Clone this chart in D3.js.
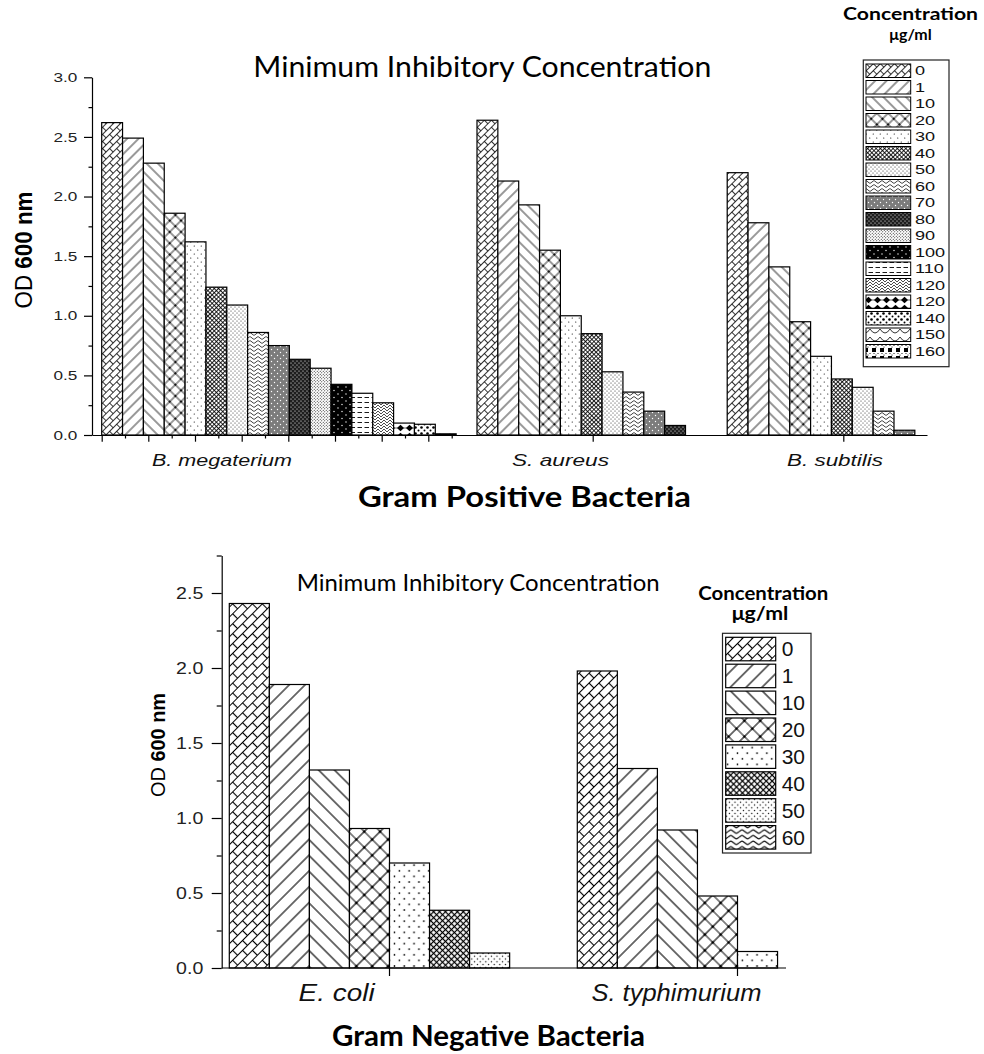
<!DOCTYPE html>
<html><head><meta charset="utf-8">
<script src="https://cdn.jsdelivr.net/npm/d3@7"></script>
<style>body{margin:0;background:#fff} svg{display:block}</style>
</head><body>
<svg id="c" width="984" height="1054"></svg>
<script>
// ---------------- data ----------------
const concentrations = ["0","1","10","20","30","40","50","60","70","80","90","100","110","120","120","140","150","160"];
const gpBacteria = ["B. megaterium","S. aureus","B. subtilis"];
const bMegaterium = [2.62,2.49,2.28,1.86,1.62,1.24,1.09,0.86,0.75,0.635,0.56,0.425,0.35,0.27,0.10,0.09,0.01,0];
const sAureus = [2.64,2.13,1.93,1.55,1.00,0.85,0.53,0.36,0.20,0.08,0,0];
const bSubtilis = [2.20,1.78,1.41,0.95,0.66,0.47,0.40,0.20,0.04];
const gpYTicks = [0,0.5,1,1.5,2,2.5,3];
const gpYMinor = [0.25,0.75,1.25,1.75,2.25,2.75];

const gnConcentrations = ["0","1","10","20","30","40","50","60"];
const gnBacteria = ["E. coli","S. typhimurium"];
const eColi = [2.43,1.89,1.32,0.93,0.70,0.385,0.10];
const sTyphimurium = [1.98,1.33,0.92,0.48,0.11];
const gnYTicks = [0,0.5,1,1.5,2,2.5];
const gnYMinor = [0.25,0.75,1.25,1.75,2.25,2.75];

const titleText = "Minimum Inhibitory Concentration";
const legendTitle = "Concentration";
const legendUnit = "μg/ml";

// ---------------- setup ----------------
const svg = d3.select('#c');
const defs = svg.append('defs');
const SANS = "'Liberation Sans', Arial, sans-serif";
const CAL = "Lato, 'Open Sans', sans-serif";

const ln = (sel, w=0.8) => sel.attr('stroke','#000').attr('stroke-width',w).attr('fill','none');
const dots = (p, pts, r, fill='#000') => pts.forEach(([x,y]) => p.append('circle').attr('cx',x).attr('cy',y).attr('r',r).attr('fill',fill));

const patternSpecs = [
  {w:10,h:10,rot:-45, draw:p=>ln(p.append('path').attr('d','M0,2.5H10M0,7.5H10M2.5,2.5V7.5M7.5,7.5V10M7.5,0V2.5'))},
  {w:8,h:8,rot:-45, draw:p=>ln(p.append('path').attr('d','M0,4H8'))},
  {w:8,h:8,rot:45, draw:p=>ln(p.append('path').attr('d','M0,4H8'))},
  {w:8,h:8,rot:45, draw:p=>{ln(p.append('path').attr('d','M0,4H8M4,0V8')); dots(p,[[4,4]],1);}},
  {w:7,h:8, draw:p=>dots(p,[[1.75,2],[5.25,6]],0.6)},
  {w:3,h:3,rot:45, draw:p=>ln(p.append('path').attr('d','M0,1.5H3M1.5,0V3'),0.85)},
  {w:4,h:4, draw:p=>dots(p,[[1,1],[3,3]],0.5)},
  {w:8,h:4, draw:p=>ln(p.append('path').attr('d','M0,2C2,0.3 2,0.3 4,2S6,3.7 8,2'),0.75)},
  {w:6,h:6, bg:'#7c7c7c', draw:p=>dots(p,[[1.5,1.5],[4.5,4.5]],0.7,'#fff')},
  {w:4,h:4, bg:'#1e1e1e', draw:p=>dots(p,[[1,1],[3,3]],0.6,'#fff')},
  {w:3,h:3, draw:p=>dots(p,[[0.75,0.75],[2.25,2.25]],0.5)},
  {w:8,h:7, bg:'#000', draw:p=>dots(p,[[2,2],[6,5.5]],0.7,'#fff')},
  {w:7,h:5, draw:p=>ln(p.append('path').attr('d','M0.5,2.5H5'),0.9)},
  {w:6,h:6, draw:p=>ln(p.append('path').attr('d','M0,0L3,3L6,0M0,3L3,6L6,3'),0.7)},
  {w:9,h:8, draw:p=>{ln(p.append('path').attr('d','M0,4H9'),0.6); p.append('path').attr('d','M4.5,0.8L8,4L4.5,7.2L1,4Z').attr('fill','#000');}},
  {w:6,h:6, draw:p=>{dots(p,[[1.5,1.5]],1.3); dots(p,[[4.5,4.5]],1);}},
  {w:10,h:8, draw:p=>ln(p.append('path').attr('d','M0,1Q5,9 10,1'),0.8)},
  {w:8,h:8, draw:p=>{p.append('rect').attr('x',0).attr('y',4).attr('width',4).attr('height',4).attr('fill','#000'); dots(p,[[2,1.5],[6,1.5],[4,3]],0.6);}}
];

function addPatterns(prefix, k){
  patternSpecs.forEach((s,i)=>{
    const p = defs.append('pattern').attr('id',prefix+i).attr('patternUnits','userSpaceOnUse')
      .attr('width',s.w).attr('height',s.h)
      .attr('patternTransform',`scale(${k})`+(s.rot?` rotate(${s.rot})`:''));
    p.append('rect').attr('width',s.w).attr('height',s.h).attr('fill',s.bg||'#fff');
    s.draw(p);
  });
}
addPatterns('tp',1);
addPatterns('bp',1.4);

function text(g, str, x, y, o){
  const t = g.append('text').attr('x',x).attr('y',y)
    .attr('font-family',o.family||SANS).attr('font-size',o.size)
    .attr('font-weight',o.weight||'normal').attr('font-style',o.style||'normal')
    .attr('fill',o.fill||'#000').attr('text-anchor',o.anchor||'start');
  if (o.len) t.attr('textLength',o.len).attr('lengthAdjust','spacingAndGlyphs');
  t.text(str);
  return t;
}
function odLabel(g, cx, cy, size, len){
  const t = g.append('text').attr('transform',`translate(${cx},${cy}) rotate(-90)`)
    .attr('text-anchor','middle').attr('font-family',SANS).attr('font-size',size)
    .attr('textLength',len).attr('lengthAdjust','spacingAndGlyphs').attr('fill','#000');
  t.append('tspan').text('OD ');
  t.append('tspan').attr('font-weight','bold').text('600 nm');
}
function styleAxis(g, w=1.2){
  g.selectAll('path,line').attr('stroke','#000').attr('stroke-width',w);
}
function stretchTicks(g, sx, offset){
  g.selectAll('.tick text').attr('x',-offset/sx).attr('transform',`scale(${sx},1)`).attr('fill','#222');
}

// ================= TOP CHART (Gram positive) =================
const gTop = svg.append('g');
const slotW = 20.85, slot0 = 101.7;
const xTop = d3.scaleLinear().domain([(92-slot0)/slotW,(927-slot0)/slotW]).range([92,927]);
const yTop = d3.scaleLinear().domain([0,3]).range([435,77.3]);

const gpSeries = [bMegaterium, sAureus, bSubtilis];
let slot = 0;
gpSeries.forEach((vals)=>{
  vals.forEach((v,i)=>{
    const s = slot + i;
    if (v > 0) {
      gTop.append('rect')
        .attr('x',xTop(s)).attr('width',xTop(s+1)-xTop(s))
        .attr('y',yTop(v)).attr('height',yTop(0)-yTop(v))
        .attr('fill',`url(#tp${i})`).attr('stroke','#000').attr('stroke-width',1.2);
    }
  });
  slot += vals.length;
});

// y axis
const yAxT = gTop.append('g').attr('transform','translate(92,0)')
  .call(d3.axisLeft(yTop).tickValues(gpYTicks).tickFormat(d3.format('.1f')).tickSize(8).tickSizeOuter(0));
yAxT.attr('font-family',SANS).attr('font-size',13);
styleAxis(yAxT);
stretchTicks(yAxT, 1.32, 14.7);
const yAxTm = gTop.append('g').attr('transform','translate(92,0)')
  .call(d3.axisLeft(yTop).tickValues(gpYMinor).tickFormat('').tickSize(3.5));
yAxTm.select('.domain').remove(); styleAxis(yAxTm);

// x axis
const topMajorPx = [101.7,148.3,195,241.7,288.3,335,381.7,428.3,592.7,843.3];
const topMinorPx = [125,171.7,218.3,265,311.7,358.3,405,451.7];
const xAxT = gTop.append('g').attr('transform','translate(0,435)')
  .call(d3.axisBottom(xTop).tickValues(topMajorPx.map(xTop.invert)).tickFormat('').tickSize(6.7).tickSizeOuter(0));
styleAxis(xAxT);
const xAxTm = gTop.append('g').attr('transform','translate(0,435)')
  .call(d3.axisBottom(xTop).tickValues(topMinorPx.map(xTop.invert)).tickFormat('').tickSize(3.5));
xAxTm.select('.domain').remove(); styleAxis(xAxTm);

// category labels
const gpLabelPos = [[152,140],[512,97],[787,96]];
gpBacteria.forEach((b,i)=>text(gTop,b,gpLabelPos[i][0],466,{size:16.5,style:'italic',len:gpLabelPos[i][1],fill:'#111'}));

text(gTop,titleText,253.3,76.7,{family:CAL,size:28,len:458});
text(gTop,'Gram Positive Bacteria',358,506.7,{family:CAL,size:29,weight:'bold',len:333});
odLabel(gTop,31.5,250,23,117);

// legend
text(gTop,legendTitle,843,20,{family:CAL,size:16.5,weight:'bold',len:135});
text(gTop,legendUnit,889.3,39.5,{family:CAL,size:14.5,weight:'bold',len:42.4});
gTop.append('rect').attr('x',863.3).attr('y',60).attr('width',85.7).attr('height',306.7)
  .attr('fill','#fff').attr('stroke','#222').attr('stroke-width',1.2);
const legRowT = d3.scaleBand().domain(d3.range(concentrations.length)).range([64,64+16.5*concentrations.length]);
concentrations.forEach((c,i)=>{
  const y0 = legRowT(i);
  gTop.append('rect').attr('x',866).attr('y',y0).attr('width',44.7).attr('height',13.5)
    .attr('fill',`url(#tp${i})`).attr('stroke','#000').attr('stroke-width',1);
  text(gTop,c,915/1.45,y0+11.3,{size:12.5,fill:'#111'}).attr('transform','scale(1.45,1)');
});

// ================= BOTTOM CHART (Gram negative) =================
const gBot = svg.append('g');
const yBot = d3.scaleLinear().domain([0,2.75]).range([968,555.5]);
const xG = d3.scaleBand().domain(gnBacteria).range([229.3,229.3+348*(2-0.0793)]).paddingInner(0.0793).paddingOuter(0);
const xS = d3.scaleBand().domain(gnConcentrations).range([0,xG.bandwidth()]);

[eColi,sTyphimurium].forEach((vals,gi)=>{
  const gx = xG(gnBacteria[gi]);
  vals.forEach((v,i)=>{
    gBot.append('rect')
      .attr('x',gx+xS(gnConcentrations[i])).attr('width',xS.bandwidth())
      .attr('y',yBot(v)).attr('height',yBot(0)-yBot(v))
      .attr('fill',`url(#bp${i})`).attr('stroke','#000').attr('stroke-width',1.2);
  });
});

const yAxB = gBot.append('g').attr('transform','translate(221.7,0)')
  .call(d3.axisLeft(yBot).tickValues(gnYTicks).tickFormat(d3.format('.1f')).tickSize(10).tickSizeOuter(0));
yAxB.attr('font-family',SANS).attr('font-size',16.3);
styleAxis(yAxB);
stretchTicks(yAxB, 1.2, 18.4);
const yAxBm = gBot.append('g').attr('transform','translate(221.7,0)')
  .call(d3.axisLeft(yBot).tickValues(gnYMinor).tickFormat('').tickSize(5));
yAxBm.select('.domain').remove(); styleAxis(yAxBm);

gBot.append('line').attr('x1',221.7).attr('x2',786).attr('y1',968).attr('y2',968)
  .attr('stroke','#000').attr('stroke-width',1.2);
const xAxB = gBot.append('g').attr('transform','translate(0,968)')
  .call(d3.axisBottom(xG).tickFormat('').tickSize(8).tickSizeOuter(0));
xAxB.select('.domain').remove(); styleAxis(xAxB);

const gnLabelPos = [[298.6,76],[591.4,170]];
gnBacteria.forEach((b,i)=>text(gBot,b,gnLabelPos[i][0],1001,{size:23,style:'italic',len:gnLabelPos[i][1],fill:'#111'}));

text(gBot,titleText,296.7,590.7,{family:CAL,size:22.5,len:363});
text(gBot,'Gram Negative Bacteria',332,1046,{family:CAL,size:28,weight:'bold',len:313});
odLabel(gBot,165,745,20,104);

text(gBot,legendTitle,698.3,600,{family:CAL,size:19,weight:'bold',len:130});
text(gBot,legendUnit,731.7,620,{family:CAL,size:18,weight:'bold',len:56.6});
gBot.append('rect').attr('x',722.5).attr('y',633.3).attr('width',88.5).attr('height',219.7)
  .attr('fill','#fff').attr('stroke','#222').attr('stroke-width',1.2);
const legRowB = d3.scaleBand().domain(gnConcentrations).range([637.3,637.3+26.9*gnConcentrations.length]);
gnConcentrations.forEach((c,i)=>{
  const y0 = legRowB(c);
  gBot.append('rect').attr('x',725.7).attr('y',y0).attr('width',50).attr('height',23.5)
    .attr('fill',`url(#bp${i})`).attr('stroke','#000').attr('stroke-width',1.2);
  text(gBot,c,781.7/1.05,y0+19,{size:20,fill:'#111'}).attr('transform','scale(1.05,1)');
});
</script>
</body></html>
